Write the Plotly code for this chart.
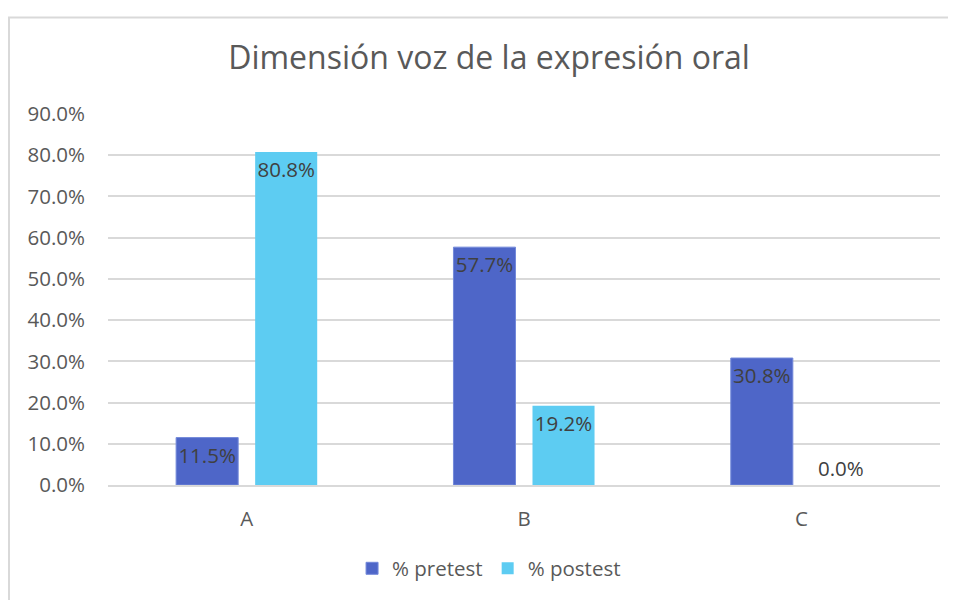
import plotly.graph_objects as go

categorias = ["A", "B", "C"]
pretest = [0.115, 0.577, 0.308]
postest = [0.808, 0.192, 0.0]

FONT = "Open Sans"
GRIS = "#595959"

fig = go.Figure()

fig.add_trace(go.Bar(
    x=categorias, y=pretest, name="% pretest",
    marker=dict(color="#4E66C8", line=dict(color="#7389DA", width=1)),
    text=[f"{v:.1%}" for v in pretest],
    textposition="inside", insidetextanchor="end", textangle=0,
    textfont=dict(family=FONT, size=20.5, color="#404040"),
    constraintext="none",
))
fig.add_trace(go.Bar(
    x=categorias, y=postest, name="% postest",
    marker=dict(color="#5DCCF2", line=dict(color="#86DBF6", width=0)),
    text=[f"{v:.1%}" for v in postest],
    # la barra en cero no tiene espacio dentro
    textposition=["inside" if v > 0 else "outside" for v in postest],
    insidetextanchor="end", textangle=0,
    textfont=dict(family=FONT, size=20.5, color="#404040"),
    constraintext="none", cliponaxis=False,
))

# la página añade 8px de margen, por eso 948x592
fig.update_layout(
    width=948, height=592,
    title=dict(text="Dimensión voz de la expresión oral", x=0.5074, xanchor="center",
               y=0.9155, yanchor="middle",
               font=dict(family=FONT, size=32, color=GRIS)),
    barmode="group", bargap=0.43, bargroupgap=0.215,
    plot_bgcolor="white", paper_bgcolor="white",
    margin=dict(l=100, r=16, t=106, b=106),
    font=dict(family=FONT, color=GRIS),
    showlegend=True,
    legend=dict(orientation="h", x=0.458, xanchor="center", y=-0.225, yanchor="middle",
                font=dict(family=FONT, size=20.5, color=GRIS), itemwidth=30),
    xaxis=dict(showgrid=False, tickfont=dict(family=FONT, size=20.5, color=GRIS),
               ticks="", showline=True, linecolor="#D9D9D9", linewidth=2,
               ticklabelstandoff=14),
    yaxis=dict(range=[0, 0.9], dtick=0.1, tickformat=".1%",
               gridcolor="#D9D9D9", gridwidth=2, zeroline=False,
               tickfont=dict(family=FONT, size=20.5, color=GRIS), ticklen=0,
               ticklabelstandoff=22),
    shapes=[dict(type="rect", xref="paper", yref="paper",
                 x0=-0.119, x1=1.2, y0=-0.5, y1=1.26,
                 line=dict(color="#D9D9D9", width=2), fillcolor="rgba(0,0,0,0)")],
)

fig.write_html("out.html")
